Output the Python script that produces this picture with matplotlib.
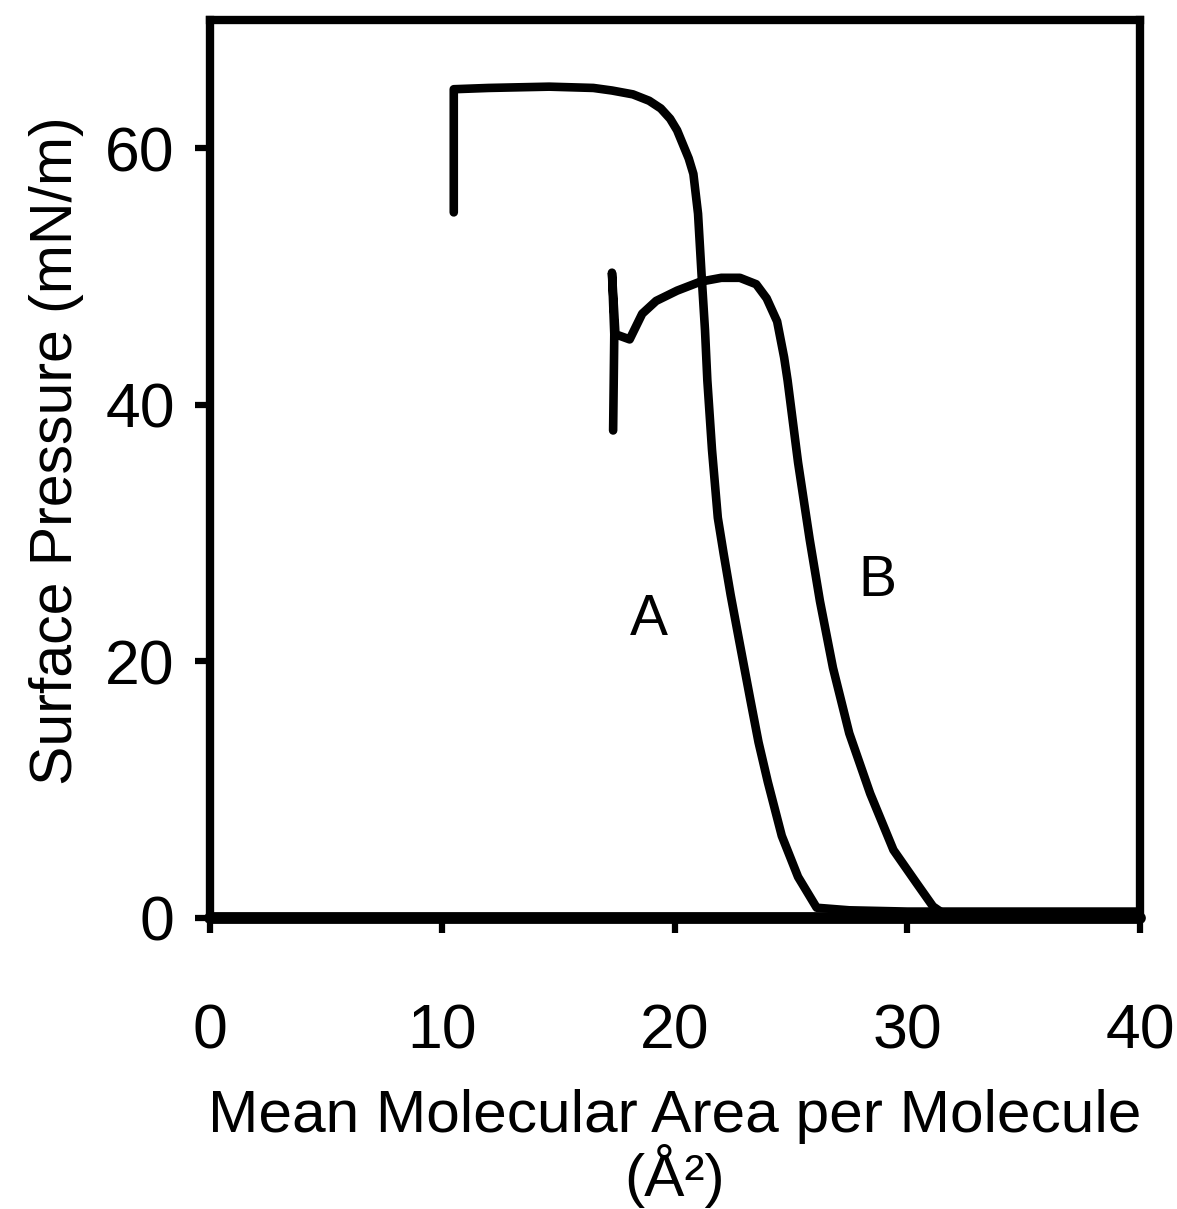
import matplotlib.pyplot as plt

# isotherm A
a_x = [10.5, 10.5, 12.0, 14.6, 16.5, 17.3, 18.2, 18.9, 19.4, 19.8, 20.1, 20.35, 20.6, 20.8, 21.0,
       21.15, 21.3, 21.4, 21.6, 21.85, 22.1, 22.4, 22.75, 23.25, 23.6, 24.0, 24.6, 25.3, 26.1,
       27.5, 30.0, 35.0, 40.0]
a_y = [55.0, 64.6, 64.7, 64.8, 64.7, 64.5, 64.2, 63.7, 63.1, 62.3, 61.4, 60.3, 59.2, 58.0, 54.9,
       50.2, 45.8, 41.9, 36.5, 31.2, 28.4, 25.2, 21.8, 17.0, 13.7, 10.6, 6.4, 3.2, 0.8,
       0.6, 0.5, 0.5, 0.5]

# isotherm B
b_x = [17.35, 17.4, 17.3, 17.45, 18.06, 18.6, 19.2, 20.1, 21.1, 22.0, 22.8, 23.5, 23.95, 24.4,
       24.7, 24.85, 25.3, 25.8, 26.24, 26.8, 27.5, 28.4, 29.4, 30.4, 31.1, 31.5, 35.0, 40.0]
b_y = [38.0, 45.5, 50.3, 45.5, 45.1, 47.1, 48.1, 48.9, 49.6, 49.9, 49.9, 49.4, 48.3, 46.5,
       43.7, 41.9, 35.5, 29.5, 24.7, 19.5, 14.4, 9.7, 5.3, 2.7, 0.9, 0.4, 0.3, 0.3]

labels = {"A": (18.9, 23.2), "B": (28.7, 26.3)}

plt.rcParams['font.family'] = ['Liberation Sans', 'DejaVu Sans']

fig = plt.figure(figsize=(11.77, 12.09), dpi=100)
ax = fig.add_axes([0.178, 0.2407, 0.7906, 0.7428])

ax.plot(a_x, a_y, color='black', lw=6.2, solid_capstyle='round', solid_joinstyle='round')
ax.plot(b_x, b_y, color='black', lw=6.2, solid_capstyle='round', solid_joinstyle='round')

for name, (x, y) in labels.items():
    ax.text(x, y, name, fontsize=41, ha='center', va='center')

ax.set_xlim(0, 40)
ax.set_ylim(0, 70)
ax.set_xticks([0, 10, 20, 30, 40])
ax.set_yticks([0, 20, 40, 60])

for s in ax.spines.values():
    s.set_linewidth(6)
ax.spines['bottom'].set_linewidth(8.5)
ax.spines['bottom'].set_capstyle('round')

ax.tick_params(axis='both', direction='out', length=11, width=4.5, labelsize=45)
ax.tick_params(axis='x', pad=50)
ax.tick_params(axis='y', pad=14)

ax.set_xlabel("Mean Molecular Area per Molecule\n(Å²)", fontsize=43.5, labelpad=20, linespacing=1.0)
ax.set_ylabel("Surface Pressure (mN/m)", fontsize=42.5, labelpad=12)
ax.yaxis.set_label_coords(-0.135, 0.52)

fig.savefig("out.png", dpi=100)
